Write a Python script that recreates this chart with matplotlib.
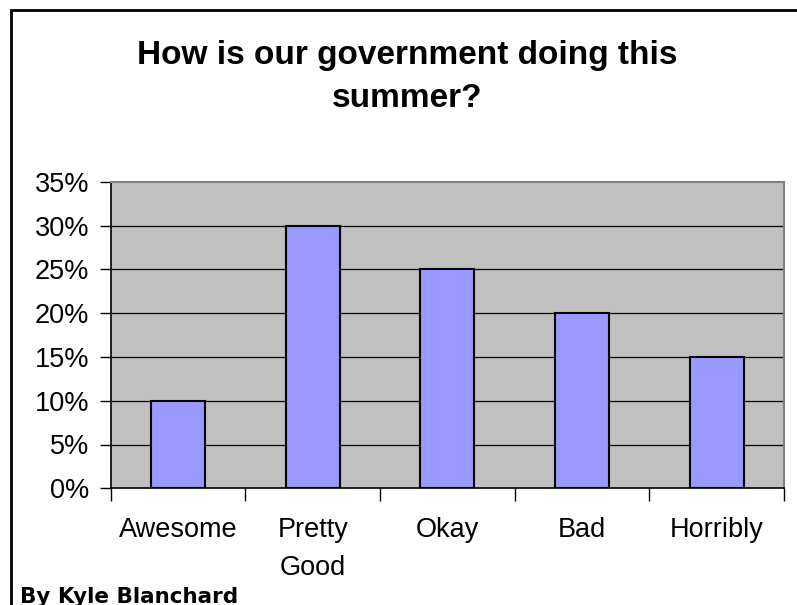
import matplotlib
matplotlib.use("Agg")
import matplotlib.pyplot as plt
from matplotlib.patches import Rectangle

categories = ["Awesome", "Pretty\nGood", "Okay", "Bad", "Horribly"]
values = [10, 30, 25, 20, 15]
yticks = [0, 5, 10, 15, 20, 25, 30, 35]
ytick_labels = ["0%", "5%", "10%", "15%", "20%", "25%", "30%", "35%"]
title_lines = ["How is our government doing this", "summer?"]
byline = "By Kyle Blanchard"

W, H = 797, 605
fig = plt.figure(figsize=(W / 100, H / 100), dpi=100)
fig.patch.set_facecolor("white")

# outer chart border (extends past right/bottom edges)
fig.patches.append(Rectangle((10.5 / W, -0.05), 1.0, (H - 9.5) / H + 0.05,
                             transform=fig.transFigure, fill=False,
                             edgecolor="black", linewidth=2.0, zorder=0))

left, right = 110.7 / W, 784 / W
bottom, top = 1 - 488.3 / H, 1 - 181.7 / H
ax = fig.add_axes([left, bottom, right - left, top - bottom])
ax.set_facecolor("#C0C0C0")

x = list(range(len(categories)))
ax.bar(x, values, width=0.4, color="#9999FF", edgecolor="black",
       linewidth=1.5, zorder=3)

ax.set_xlim(-0.5, len(categories) - 0.5)
ax.set_ylim(0, 35)

for yv in yticks[1:-1]:
    ax.axhline(yv, color="black", linewidth=0.9, zorder=1)

ax.set_yticks(yticks)
ax.set_yticklabels(ytick_labels, fontsize=19.5, family="Liberation Sans")
ax.tick_params(axis="y", direction="out", length=8, width=1, pad=7.5, colors="black")

# category labels centered, ticks at boundaries
ax.set_xticks(x)
ax.set_xticklabels(categories, fontsize=19.5, family="Liberation Sans", linespacing=1.6,
                   va="top")
ax.set_xticks([i - 0.5 for i in range(len(categories) + 1)], minor=True)
ax.tick_params(axis="x", which="major", length=0, pad=21)
ax.tick_params(axis="x", which="minor", direction="out", length=9, width=1)

for s in ["top", "right"]:
    ax.spines[s].set_color("#808080")
    ax.spines[s].set_linewidth(1.5)
for s in ["left", "bottom"]:
    ax.spines[s].set_color("black")
    ax.spines[s].set_linewidth(1.2)

fig.text(407 / W, 1 - 64 / H, title_lines[0], ha="center",
         va="baseline", fontsize=24, fontweight="bold", family="Liberation Sans")
fig.text(407 / W, 1 - 107 / H, title_lines[1], ha="center",
         va="baseline", fontsize=24, fontweight="bold", family="Liberation Sans")

fig.text(20 / W, 1 - 603 / H, byline, ha="left", va="baseline",
         fontsize=15.5, fontweight="bold", family="DejaVu Sans")

fig.savefig("out.png", dpi=100, facecolor="white")
